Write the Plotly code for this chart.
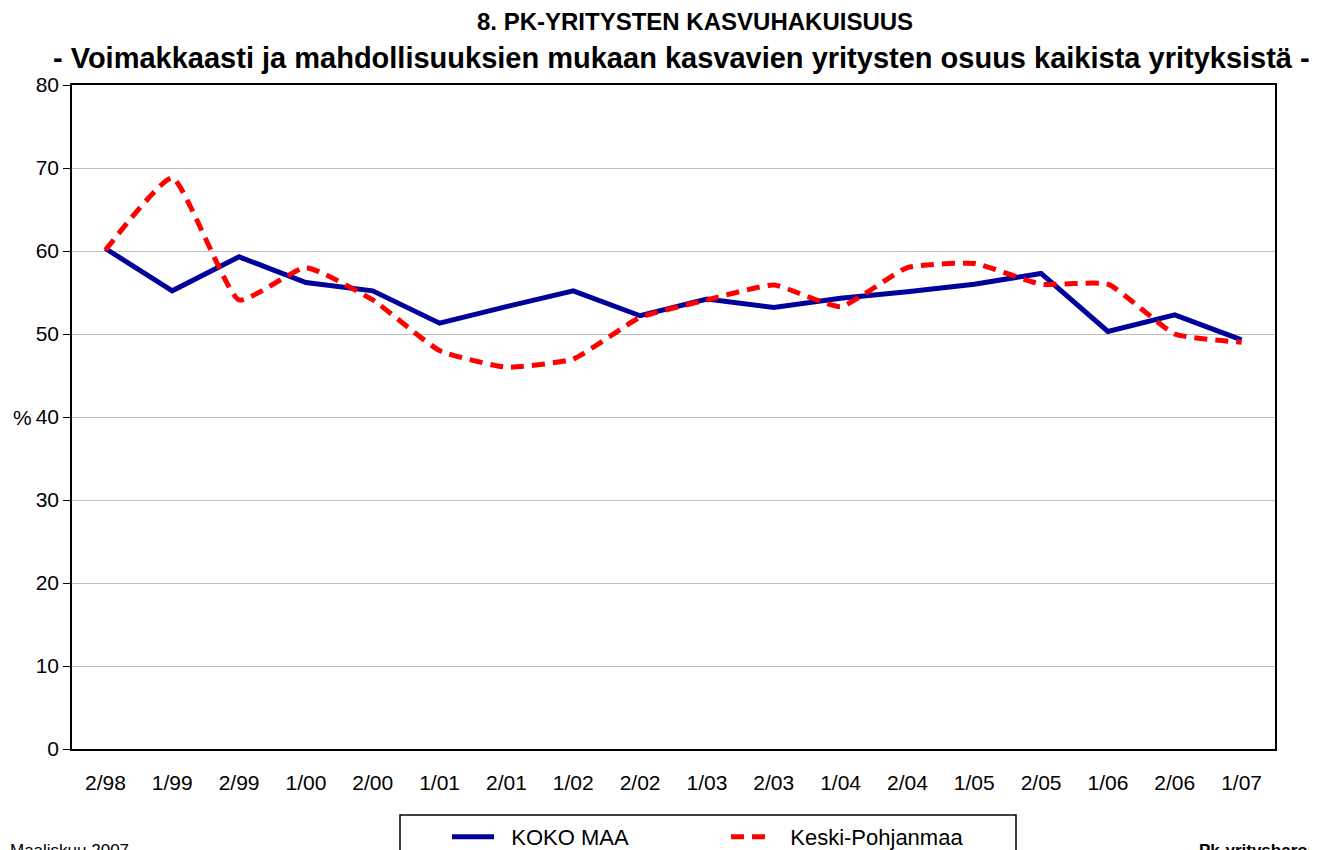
import plotly.graph_objects as go

categories = ["2/98", "1/99", "2/99", "1/00", "2/00", "1/01", "2/01", "1/02", "2/02",
              "1/03", "2/03", "1/04", "2/04", "1/05", "2/05", "1/06", "2/06", "1/07"]
koko_maa = [60.3, 55.2, 59.3, 56.2, 55.2, 51.3, 53.3, 55.2, 52.2,
            54.2, 53.2, 54.3, 55.1, 56.0, 57.3, 50.3, 52.3, 49.3]
keski_pohjanmaa = [60.1, 68.8, 54.1, 58.0, 54.1, 48.0, 46.0, 47.0, 52.0,
                   54.1, 55.9, 53.3, 58.0, 58.5, 56.0, 56.0, 50.0, 49.0]
y_ticks = [0, 10, 20, 30, 40, 50, 60, 70, 80]

FONT = "Liberation Sans, Arial, sans-serif"
W, H = 1309, 842          # page is offset by the 8px body margin
OFF = 8
L, T, R, B = 72 - OFF, 85 - OFF, 1309 - (1275 - OFF), 842 - (749 - OFF)
PW, PH = W - L - R, H - T - B


def px(xp):  # page x -> paper
    return (xp - OFF - L) / PW


def py(yp):  # page y -> paper
    return (H - B - (yp - OFF)) / PH


NB = "\u00a0"

fig = go.Figure()
fig.add_trace(go.Scatter(x=categories, y=koko_maa, mode="lines", name=NB * 2 + "KOKO MAA",
                         line=dict(color="#00009C", width=5)))
fig.add_trace(go.Scatter(x=categories, y=keski_pohjanmaa, mode="lines",
                         name=NB * 2 + "Keski-Pohjanmaa",
                         line=dict(color="#FF0000", width=5, dash="13px,8px",
                                   shape="spline", smoothing=0.45)))

fig.update_layout(
    width=W, height=H,
    margin=dict(l=L, r=R, t=T, b=B, autoexpand=False),
    paper_bgcolor="white", plot_bgcolor="white",
    font=dict(family=FONT, size=21, color="black"),
    showlegend=True,
    legend=dict(orientation="h", xref="container", yref="container",
                x=(447 - OFF) / W, xanchor="left",
                y=(H - (837 - OFF)) / H, yanchor="middle",
                borderwidth=0, bgcolor="rgba(0,0,0,0)",
                font=dict(size=22, family=FONT), entrywidth=222, itemwidth=42,
                traceorder="normal"),
    xaxis=dict(showline=True, linecolor="black", linewidth=1.5, mirror=True,
               showgrid=False, ticks="", tickfont=dict(size=21), range=[-0.5, 17.5],
               ticklabelstandoff=14),
    yaxis=dict(range=[0, 80], tickvals=y_ticks, showline=True, linecolor="black",
               linewidth=1.5, mirror=True, ticks="outside", ticklen=7, tickcolor="black",
               showgrid=True, gridcolor="#BEBEBE", gridwidth=1, zeroline=False,
               tickfont=dict(size=21)),
)

# legend frame
fig.add_shape(type="rect", xref="paper", yref="paper",
              x0=px(400), x1=px(1016), y0=py(880), y1=py(815),
              line=dict(color="black", width=1.5), fillcolor="rgba(0,0,0,0)", layer="above")

fig.add_annotation(text="<b>8. PK-YRITYSTEN KASVUHAKUISUUS</b>", xref="paper", yref="paper",
                   x=px(695), y=py(22), xanchor="center", yanchor="middle",
                   showarrow=False, font=dict(size=24, family=FONT))
fig.add_annotation(text="<b>- Voimakkaasti ja mahdollisuuksien mukaan kasvavien yritysten osuus kaikista yrityksistä -</b>",
                   xref="paper", yref="paper",
                   x=px(681), y=py(58), xanchor="center", yanchor="middle",
                   showarrow=False, font=dict(size=29, family=FONT))
fig.add_annotation(text="%", xref="paper", yref="paper", x=px(22), y=py(417),
                   xanchor="center", yanchor="middle", showarrow=False,
                   font=dict(size=21, family=FONT))
fig.add_annotation(text="Maaliskuu 2007", xref="paper", yref="paper", x=px(8),
                   y=py(851), xanchor="left", yanchor="middle", showarrow=False,
                   font=dict(size=17, family=FONT))
fig.add_annotation(text="<b>Pk-yritysbarometri</b>", xref="paper", yref="paper",
                   x=px(1197), y=py(851), xanchor="left", yanchor="middle",
                   showarrow=False, font=dict(size=17, family=FONT))

fig.write_html("out.html")
